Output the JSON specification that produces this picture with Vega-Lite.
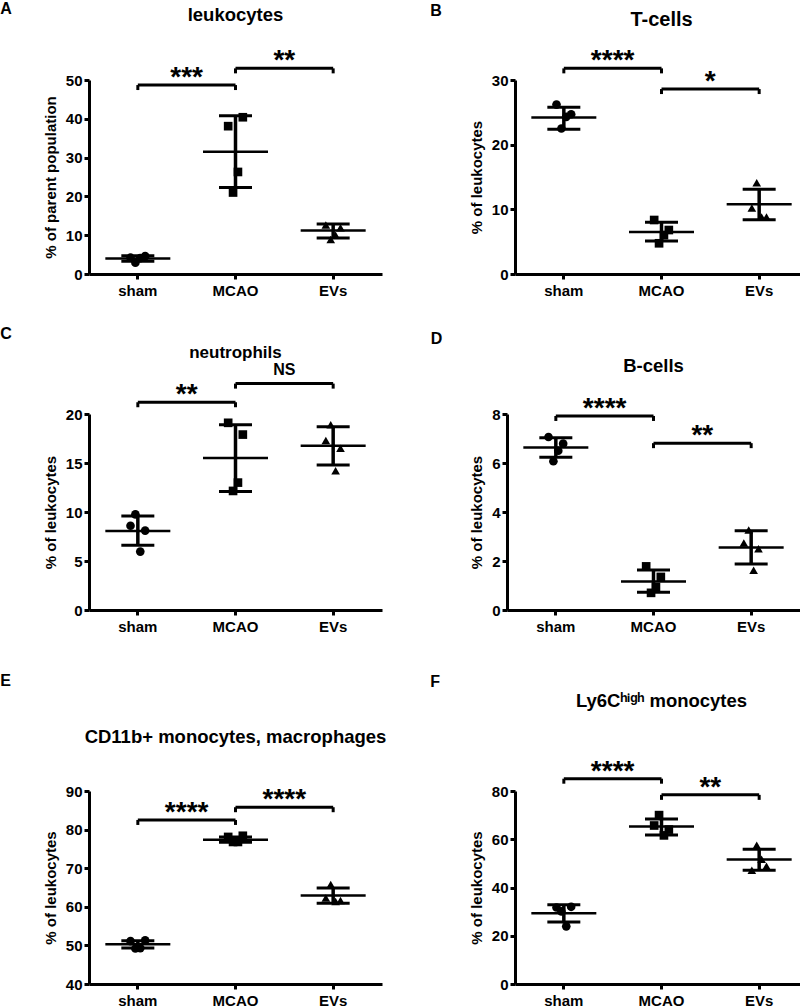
{
  "$schema": "https://vega.github.io/schema/vega-lite/v6.json",
  "padding": {"left": 0, "top": 0, "right": 2, "bottom": 0},
  "background": "white",
  "spacing": 27,
  "datasets": {
    "points": [
      {"panel": "A", "group": "sham", "rep": 1, "value": 4.2},
      {"panel": "A", "group": "sham", "rep": 2, "value": 2.9},
      {"panel": "A", "group": "sham", "rep": 3, "value": 4.1},
      {"panel": "A", "group": "sham", "rep": 4, "value": 4.6},
      {"panel": "A", "group": "MCAO", "rep": 1, "value": 38.1},
      {"panel": "A", "group": "MCAO", "rep": 2, "value": 21.0},
      {"panel": "A", "group": "MCAO", "rep": 3, "value": 26.3},
      {"panel": "A", "group": "MCAO", "rep": 4, "value": 40.4},
      {"panel": "A", "group": "EVs", "rep": 1, "value": 12.6},
      {"panel": "A", "group": "EVs", "rep": 2, "value": 8.9},
      {"panel": "A", "group": "EVs", "rep": 3, "value": 10.0},
      {"panel": "A", "group": "EVs", "rep": 4, "value": 11.9},
      {"panel": "B", "group": "sham", "rep": 1, "value": 26.2},
      {"panel": "B", "group": "sham", "rep": 2, "value": 22.5},
      {"panel": "B", "group": "sham", "rep": 3, "value": 24.3},
      {"panel": "B", "group": "sham", "rep": 4, "value": 24.7},
      {"panel": "B", "group": "MCAO", "rep": 1, "value": 8.35},
      {"panel": "B", "group": "MCAO", "rep": 2, "value": 4.75},
      {"panel": "B", "group": "MCAO", "rep": 3, "value": 6.0},
      {"panel": "B", "group": "MCAO", "rep": 4, "value": 6.8},
      {"panel": "B", "group": "EVs", "rep": 1, "value": 10.2},
      {"panel": "B", "group": "EVs", "rep": 2, "value": 14.1},
      {"panel": "B", "group": "EVs", "rep": 3, "value": 8.8},
      {"panel": "B", "group": "EVs", "rep": 4, "value": 8.8},
      {"panel": "C", "group": "sham", "rep": 1, "value": 8.6},
      {"panel": "C", "group": "sham", "rep": 2, "value": 9.76},
      {"panel": "C", "group": "sham", "rep": 3, "value": 5.96},
      {"panel": "C", "group": "sham", "rep": 4, "value": 8.1},
      {"panel": "C", "group": "MCAO", "rep": 1, "value": 19.1},
      {"panel": "C", "group": "MCAO", "rep": 2, "value": 12.15},
      {"panel": "C", "group": "MCAO", "rep": 3, "value": 13.0},
      {"panel": "C", "group": "MCAO", "rep": 4, "value": 17.9},
      {"panel": "C", "group": "EVs", "rep": 1, "value": 17.3},
      {"panel": "C", "group": "EVs", "rep": 2, "value": 18.9},
      {"panel": "C", "group": "EVs", "rep": 3, "value": 14.2},
      {"panel": "C", "group": "EVs", "rep": 4, "value": 16.5},
      {"panel": "D", "group": "sham", "rep": 1, "value": 7.06},
      {"panel": "D", "group": "sham", "rep": 2, "value": 6.07},
      {"panel": "D", "group": "sham", "rep": 3, "value": 6.5},
      {"panel": "D", "group": "sham", "rep": 4, "value": 6.79},
      {"panel": "D", "group": "MCAO", "rep": 1, "value": 1.78},
      {"panel": "D", "group": "MCAO", "rep": 2, "value": 0.70},
      {"panel": "D", "group": "MCAO", "rep": 3, "value": 0.94},
      {"panel": "D", "group": "MCAO", "rep": 4, "value": 1.35},
      {"panel": "D", "group": "EVs", "rep": 1, "value": 2.73},
      {"panel": "D", "group": "EVs", "rep": 2, "value": 3.27},
      {"panel": "D", "group": "EVs", "rep": 3, "value": 1.62},
      {"panel": "D", "group": "EVs", "rep": 4, "value": 2.5},
      {"panel": "E", "group": "sham", "rep": 1, "value": 51.1},
      {"panel": "E", "group": "sham", "rep": 2, "value": 49.2},
      {"panel": "E", "group": "sham", "rep": 3, "value": 49.3},
      {"panel": "E", "group": "sham", "rep": 4, "value": 51.3},
      {"panel": "E", "group": "MCAO", "rep": 1, "value": 78.1},
      {"panel": "E", "group": "MCAO", "rep": 2, "value": 76.8},
      {"panel": "E", "group": "MCAO", "rep": 3, "value": 76.8},
      {"panel": "E", "group": "MCAO", "rep": 4, "value": 78.4},
      {"panel": "E", "group": "EVs", "rep": 1, "value": 62.3},
      {"panel": "E", "group": "EVs", "rep": 2, "value": 65.8},
      {"panel": "E", "group": "EVs", "rep": 3, "value": 61.4},
      {"panel": "E", "group": "EVs", "rep": 4, "value": 61.6},
      {"panel": "F", "group": "sham", "rep": 1, "value": 31.7},
      {"panel": "F", "group": "sham", "rep": 2, "value": 30.1},
      {"panel": "F", "group": "sham", "rep": 3, "value": 23.9},
      {"panel": "F", "group": "sham", "rep": 4, "value": 32.0},
      {"panel": "F", "group": "MCAO", "rep": 1, "value": 65.7},
      {"panel": "F", "group": "MCAO", "rep": 2, "value": 70.0},
      {"panel": "F", "group": "MCAO", "rep": 3, "value": 61.6},
      {"panel": "F", "group": "MCAO", "rep": 4, "value": 64.0},
      {"panel": "F", "group": "EVs", "rep": 1, "value": 47.1},
      {"panel": "F", "group": "EVs", "rep": 2, "value": 57.5},
      {"panel": "F", "group": "EVs", "rep": 3, "value": 51.7},
      {"panel": "F", "group": "EVs", "rep": 4, "value": 48.8}
    ],
    "summary": [
      {"panel": "A", "group": "sham", "mean": 4.0, "lo": 3.3, "hi": 4.7},
      {"panel": "A", "group": "MCAO", "mean": 31.5, "lo": 22.3, "hi": 40.8},
      {"panel": "A", "group": "EVs", "mean": 11.2, "lo": 9.3, "hi": 12.9},
      {"panel": "B", "group": "sham", "mean": 24.2, "lo": 22.4, "hi": 25.8},
      {"panel": "B", "group": "MCAO", "mean": 6.5, "lo": 5.1, "hi": 8.0},
      {"panel": "B", "group": "EVs", "mean": 10.8, "lo": 8.4, "hi": 13.1},
      {"panel": "C", "group": "sham", "mean": 8.05, "lo": 6.6, "hi": 9.6},
      {"panel": "C", "group": "MCAO", "mean": 15.5, "lo": 12.1, "hi": 18.9},
      {"panel": "C", "group": "EVs", "mean": 16.75, "lo": 14.8, "hi": 18.7},
      {"panel": "D", "group": "sham", "mean": 6.63, "lo": 6.23, "hi": 7.03},
      {"panel": "D", "group": "MCAO", "mean": 1.16, "lo": 0.72, "hi": 1.63},
      {"panel": "D", "group": "EVs", "mean": 2.55, "lo": 1.88, "hi": 3.23},
      {"panel": "E", "group": "sham", "mean": 50.3, "lo": 49.3, "hi": 51.2},
      {"panel": "E", "group": "MCAO", "mean": 77.4, "lo": 76.7, "hi": 78.1},
      {"panel": "E", "group": "EVs", "mean": 62.9, "lo": 60.9, "hi": 64.9},
      {"panel": "F", "group": "sham", "mean": 29.3, "lo": 25.7, "hi": 32.8},
      {"panel": "F", "group": "MCAO", "mean": 65.3, "lo": 61.8, "hi": 68.4},
      {"panel": "F", "group": "EVs", "mean": 51.6, "lo": 47.1, "hi": 55.9}
    ],
    "sig": [
      {"panel": "A", "group": "sham", "to": "MCAO", "level": 48.7, "label": "***"},
      {"panel": "A", "group": "MCAO", "to": "EVs", "level": 53.0, "label": "**"},
      {"panel": "B", "group": "sham", "to": "MCAO", "level": 31.8, "label": "****"},
      {"panel": "B", "group": "MCAO", "to": "EVs", "level": 28.6, "label": "*"},
      {"panel": "C", "group": "sham", "to": "MCAO", "level": 21.2, "label": "**"},
      {"panel": "C", "group": "MCAO", "to": "EVs", "level": 23.1, "label": "NS"},
      {"panel": "D", "group": "sham", "to": "MCAO", "level": 7.92, "label": "****"},
      {"panel": "D", "group": "MCAO", "to": "EVs", "level": 6.81, "label": "**"},
      {"panel": "E", "group": "sham", "to": "MCAO", "level": 82.5, "label": "****"},
      {"panel": "E", "group": "MCAO", "to": "EVs", "level": 85.8, "label": "****"},
      {"panel": "F", "group": "sham", "to": "MCAO", "level": 85.1, "label": "****"},
      {"panel": "F", "group": "MCAO", "to": "EVs", "level": 78.4, "label": "**"}
    ]
  },
  "config": {
    "font": "Liberation Sans",
    "view": {"stroke": null},
    "axis": {"domainColor": "black", "domainWidth": 3, "tickColor": "black", "tickWidth": 3, "tickSize": 5, "labelFont": "Liberation Sans", "labelFontWeight": "bold", "labelFontSize": 15, "labelColor": "black", "titleFont": "Liberation Sans", "titleFontWeight": "bold", "titleFontSize": 15, "titleColor": "black", "grid": false},
    "axisY": {"titlePadding": 7, "labelPadding": 2},
    "axisX": {"labelPadding": 4, "labelAngle": 0},
    "title": {"font": "Liberation Sans", "fontWeight": "bold", "color": "black", "fontSize": 18},
    "tick": {"opacity": 1},
    "concat": {"spacing": 48}
  },
  "vconcat": [
    {"hconcat": [
      {"title": {"text": "A", "anchor": "start", "fontSize": 16, "dx": -43, "offset": -11},
       "vconcat": [{
        "width": 293, "height": 194,
        "title": {"text": "leukocytes", "offset": 23, "fontSize": 18.5, "frame": "group"},
        "encoding": {"x": {"field": "group", "type": "nominal", "scale": {"domain": ["sham", "MCAO", "EVs"], "paddingInner": 0.8, "paddingOuter": 0.4}, "axis": {"title": null}}},
        "layer": [
          {"data": {"name": "summary"}, "transform": [{"filter": "datum.panel === 'A'"}], "mark": {"type": "rule", "strokeWidth": 3.5, "color": "black"},
           "encoding": {"y": {"field": "lo", "type": "quantitative", "scale": {"domain": [0, 50], "nice": false, "zero": false}, "axis": {"values": [0, 10, 20, 30, 40, 50], "title": "% of parent population"}}, "y2": {"field": "hi"}}},
          {"data": {"name": "summary"}, "transform": [{"filter": "datum.panel === 'A'"}], "mark": {"type": "tick", "size": 65, "thickness": 2.5, "color": "black", "opacity": 1},
           "encoding": {"y": {"field": "mean", "type": "quantitative", "scale": {"domain": [0, 50], "nice": false, "zero": false}, "axis": {"values": [0, 10, 20, 30, 40, 50], "title": "% of parent population"}}}},
          {"data": {"name": "summary"}, "transform": [{"filter": "datum.panel === 'A'"}], "mark": {"type": "tick", "size": 33, "thickness": 3, "color": "black", "opacity": 1},
           "encoding": {"y": {"field": "lo", "type": "quantitative", "scale": {"domain": [0, 50], "nice": false, "zero": false}, "axis": {"values": [0, 10, 20, 30, 40, 50], "title": "% of parent population"}}}},
          {"data": {"name": "summary"}, "transform": [{"filter": "datum.panel === 'A'"}], "mark": {"type": "tick", "size": 33, "thickness": 3, "color": "black", "opacity": 1},
           "encoding": {"y": {"field": "hi", "type": "quantitative", "scale": {"domain": [0, 50], "nice": false, "zero": false}, "axis": {"values": [0, 10, 20, 30, 40, 50], "title": "% of parent population"}}}},
          {"data": {"name": "points"}, "transform": [{"filter": "datum.panel === 'A'"}], "mark": {"type": "point", "filled": true, "size": 75, "opacity": 1, "color": "black", "strokeWidth": 0},
           "encoding": {"xOffset": {"field": "rep", "type": "ordinal"}, "y": {"field": "value", "type": "quantitative", "scale": {"domain": [0, 50], "nice": false, "zero": false}, "axis": {"values": [0, 10, 20, 30, 40, 50], "title": "% of parent population"}},
            "shape": {"field": "group", "type": "nominal", "scale": {"domain": ["sham", "MCAO", "EVs"], "range": ["circle", "square", "triangle-up"]}, "legend": null}}},
          {"data": {"name": "sig"}, "transform": [{"filter": "datum.panel === 'A'"}], "mark": {"type": "rule", "strokeWidth": 3, "color": "black"},
           "encoding": {"x2": {"field": "to"}, "y": {"field": "level", "type": "quantitative", "scale": {"domain": [0, 50], "nice": false, "zero": false}, "axis": {"values": [0, 10, 20, 30, 40, 50], "title": "% of parent population"}}}},
          {"data": {"name": "sig"}, "transform": [{"filter": "datum.panel === 'A'"}], "mark": {"type": "rule", "strokeWidth": 3, "color": "black", "y2Offset": 5},
           "encoding": {"y": {"field": "level", "type": "quantitative", "scale": {"domain": [0, 50], "nice": false, "zero": false}, "axis": {"values": [0, 10, 20, 30, 40, 50], "title": "% of parent population"}}, "y2": {"field": "level"}}},
          {"data": {"name": "sig"}, "transform": [{"filter": "datum.panel === 'A'"}], "mark": {"type": "rule", "strokeWidth": 3, "color": "black", "y2Offset": 5},
           "encoding": {"x": {"field": "to", "type": "nominal", "scale": {"domain": ["sham", "MCAO", "EVs"], "paddingInner": 0.8, "paddingOuter": 0.4}, "axis": {"title": null}}, "y": {"field": "level", "type": "quantitative", "scale": {"domain": [0, 50], "nice": false, "zero": false}, "axis": {"values": [0, 10, 20, 30, 40, 50], "title": "% of parent population"}}, "y2": {"field": "level"}}},
          {"data": {"name": "sig"}, "transform": [{"filter": "datum.panel === 'A' && datum.label !== 'NS'"}], "mark": {"type": "text", "dx": 48.8, "dy": 1, "fontSize": 28, "fontWeight": "bold", "baseline": "alphabetic", "align": "center", "color": "black"},
           "encoding": {"y": {"field": "level", "type": "quantitative", "scale": {"domain": [0, 50], "nice": false, "zero": false}, "axis": {"values": [0, 10, 20, 30, 40, 50], "title": "% of parent population"}}, "text": {"field": "label"}}}
        ]
      }]},
      {"title": {"text": "B", "anchor": "start", "fontSize": 16, "dx": -39, "offset": -9},
       "vconcat": [{
        "width": 293, "height": 194,
        "title": {"text": "T-cells", "offset": 17, "fontSize": 20, "frame": "group"},
        "encoding": {"x": {"field": "group", "type": "nominal", "scale": {"domain": ["sham", "MCAO", "EVs"], "paddingInner": 0.8, "paddingOuter": 0.4}, "axis": {"title": null}}},
        "layer": [
          {"data": {"name": "summary"}, "transform": [{"filter": "datum.panel === 'B'"}], "mark": {"type": "rule", "strokeWidth": 3.5, "color": "black"},
           "encoding": {"y": {"field": "lo", "type": "quantitative", "scale": {"domain": [0, 30], "nice": false, "zero": false}, "axis": {"values": [0, 10, 20, 30], "title": "% of leukocytes"}}, "y2": {"field": "hi"}}},
          {"data": {"name": "summary"}, "transform": [{"filter": "datum.panel === 'B'"}], "mark": {"type": "tick", "size": 65, "thickness": 2.5, "color": "black", "opacity": 1},
           "encoding": {"y": {"field": "mean", "type": "quantitative", "scale": {"domain": [0, 30], "nice": false, "zero": false}, "axis": {"values": [0, 10, 20, 30], "title": "% of leukocytes"}}}},
          {"data": {"name": "summary"}, "transform": [{"filter": "datum.panel === 'B'"}], "mark": {"type": "tick", "size": 33, "thickness": 3, "color": "black", "opacity": 1},
           "encoding": {"y": {"field": "lo", "type": "quantitative", "scale": {"domain": [0, 30], "nice": false, "zero": false}, "axis": {"values": [0, 10, 20, 30], "title": "% of leukocytes"}}}},
          {"data": {"name": "summary"}, "transform": [{"filter": "datum.panel === 'B'"}], "mark": {"type": "tick", "size": 33, "thickness": 3, "color": "black", "opacity": 1},
           "encoding": {"y": {"field": "hi", "type": "quantitative", "scale": {"domain": [0, 30], "nice": false, "zero": false}, "axis": {"values": [0, 10, 20, 30], "title": "% of leukocytes"}}}},
          {"data": {"name": "points"}, "transform": [{"filter": "datum.panel === 'B'"}], "mark": {"type": "point", "filled": true, "size": 75, "opacity": 1, "color": "black", "strokeWidth": 0},
           "encoding": {"xOffset": {"field": "rep", "type": "ordinal"}, "y": {"field": "value", "type": "quantitative", "scale": {"domain": [0, 30], "nice": false, "zero": false}, "axis": {"values": [0, 10, 20, 30], "title": "% of leukocytes"}},
            "shape": {"field": "group", "type": "nominal", "scale": {"domain": ["sham", "MCAO", "EVs"], "range": ["circle", "square", "triangle-up"]}, "legend": null}}},
          {"data": {"name": "sig"}, "transform": [{"filter": "datum.panel === 'B'"}], "mark": {"type": "rule", "strokeWidth": 3, "color": "black"},
           "encoding": {"x2": {"field": "to"}, "y": {"field": "level", "type": "quantitative", "scale": {"domain": [0, 30], "nice": false, "zero": false}, "axis": {"values": [0, 10, 20, 30], "title": "% of leukocytes"}}}},
          {"data": {"name": "sig"}, "transform": [{"filter": "datum.panel === 'B'"}], "mark": {"type": "rule", "strokeWidth": 3, "color": "black", "y2Offset": 5},
           "encoding": {"y": {"field": "level", "type": "quantitative", "scale": {"domain": [0, 30], "nice": false, "zero": false}, "axis": {"values": [0, 10, 20, 30], "title": "% of leukocytes"}}, "y2": {"field": "level"}}},
          {"data": {"name": "sig"}, "transform": [{"filter": "datum.panel === 'B'"}], "mark": {"type": "rule", "strokeWidth": 3, "color": "black", "y2Offset": 5},
           "encoding": {"x": {"field": "to", "type": "nominal", "scale": {"domain": ["sham", "MCAO", "EVs"], "paddingInner": 0.8, "paddingOuter": 0.4}, "axis": {"title": null}}, "y": {"field": "level", "type": "quantitative", "scale": {"domain": [0, 30], "nice": false, "zero": false}, "axis": {"values": [0, 10, 20, 30], "title": "% of leukocytes"}}, "y2": {"field": "level"}}},
          {"data": {"name": "sig"}, "transform": [{"filter": "datum.panel === 'B' && datum.label !== 'NS'"}], "mark": {"type": "text", "dx": 48.8, "dy": 1, "fontSize": 28, "fontWeight": "bold", "baseline": "alphabetic", "align": "center", "color": "black"},
           "encoding": {"y": {"field": "level", "type": "quantitative", "scale": {"domain": [0, 30], "nice": false, "zero": false}, "axis": {"values": [0, 10, 20, 30], "title": "% of leukocytes"}}, "text": {"field": "label"}}}
        ]
      }]}
    ]},
    {"spacing": 38,
     "vconcat": [
    {"hconcat": [
      {"title": {"text": "C", "anchor": "start", "fontSize": 16, "dx": -43, "offset": 2},
       "vconcat": [{
        "width": 293, "height": 196,
        "title": {"text": "neutrophils", "offset": 0, "fontSize": 17, "frame": "group"},
        "encoding": {"x": {"field": "group", "type": "nominal", "scale": {"domain": ["sham", "MCAO", "EVs"], "paddingInner": 0.8, "paddingOuter": 0.4}, "axis": {"title": null}}},
        "layer": [
          {"data": {"name": "summary"}, "transform": [{"filter": "datum.panel === 'C'"}], "mark": {"type": "rule", "strokeWidth": 3.5, "color": "black"},
           "encoding": {"y": {"field": "lo", "type": "quantitative", "scale": {"domain": [0, 20], "nice": false, "zero": false}, "axis": {"values": [0, 5, 10, 15, 20], "title": "% of leukocytes"}}, "y2": {"field": "hi"}}},
          {"data": {"name": "summary"}, "transform": [{"filter": "datum.panel === 'C'"}], "mark": {"type": "tick", "size": 65, "thickness": 2.5, "color": "black", "opacity": 1},
           "encoding": {"y": {"field": "mean", "type": "quantitative", "scale": {"domain": [0, 20], "nice": false, "zero": false}, "axis": {"values": [0, 5, 10, 15, 20], "title": "% of leukocytes"}}}},
          {"data": {"name": "summary"}, "transform": [{"filter": "datum.panel === 'C'"}], "mark": {"type": "tick", "size": 33, "thickness": 3, "color": "black", "opacity": 1},
           "encoding": {"y": {"field": "lo", "type": "quantitative", "scale": {"domain": [0, 20], "nice": false, "zero": false}, "axis": {"values": [0, 5, 10, 15, 20], "title": "% of leukocytes"}}}},
          {"data": {"name": "summary"}, "transform": [{"filter": "datum.panel === 'C'"}], "mark": {"type": "tick", "size": 33, "thickness": 3, "color": "black", "opacity": 1},
           "encoding": {"y": {"field": "hi", "type": "quantitative", "scale": {"domain": [0, 20], "nice": false, "zero": false}, "axis": {"values": [0, 5, 10, 15, 20], "title": "% of leukocytes"}}}},
          {"data": {"name": "points"}, "transform": [{"filter": "datum.panel === 'C'"}], "mark": {"type": "point", "filled": true, "size": 75, "opacity": 1, "color": "black", "strokeWidth": 0},
           "encoding": {"xOffset": {"field": "rep", "type": "ordinal"}, "y": {"field": "value", "type": "quantitative", "scale": {"domain": [0, 20], "nice": false, "zero": false}, "axis": {"values": [0, 5, 10, 15, 20], "title": "% of leukocytes"}},
            "shape": {"field": "group", "type": "nominal", "scale": {"domain": ["sham", "MCAO", "EVs"], "range": ["circle", "square", "triangle-up"]}, "legend": null}}},
          {"data": {"name": "sig"}, "transform": [{"filter": "datum.panel === 'C'"}], "mark": {"type": "rule", "strokeWidth": 3, "color": "black"},
           "encoding": {"x2": {"field": "to"}, "y": {"field": "level", "type": "quantitative", "scale": {"domain": [0, 20], "nice": false, "zero": false}, "axis": {"values": [0, 5, 10, 15, 20], "title": "% of leukocytes"}}}},
          {"data": {"name": "sig"}, "transform": [{"filter": "datum.panel === 'C'"}], "mark": {"type": "rule", "strokeWidth": 3, "color": "black", "y2Offset": 5},
           "encoding": {"y": {"field": "level", "type": "quantitative", "scale": {"domain": [0, 20], "nice": false, "zero": false}, "axis": {"values": [0, 5, 10, 15, 20], "title": "% of leukocytes"}}, "y2": {"field": "level"}}},
          {"data": {"name": "sig"}, "transform": [{"filter": "datum.panel === 'C'"}], "mark": {"type": "rule", "strokeWidth": 3, "color": "black", "y2Offset": 5},
           "encoding": {"x": {"field": "to", "type": "nominal", "scale": {"domain": ["sham", "MCAO", "EVs"], "paddingInner": 0.8, "paddingOuter": 0.4}, "axis": {"title": null}}, "y": {"field": "level", "type": "quantitative", "scale": {"domain": [0, 20], "nice": false, "zero": false}, "axis": {"values": [0, 5, 10, 15, 20], "title": "% of leukocytes"}}, "y2": {"field": "level"}}},
          {"data": {"name": "sig"}, "transform": [{"filter": "datum.panel === 'C' && datum.label !== 'NS'"}], "mark": {"type": "text", "dx": 48.8, "dy": 1, "fontSize": 28, "fontWeight": "bold", "baseline": "alphabetic", "align": "center", "color": "black"},
           "encoding": {"y": {"field": "level", "type": "quantitative", "scale": {"domain": [0, 20], "nice": false, "zero": false}, "axis": {"values": [0, 5, 10, 15, 20], "title": "% of leukocytes"}}, "text": {"field": "label"}}},
          {"data": {"name": "sig"}, "transform": [{"filter": "datum.panel === 'C' && datum.label === 'NS'"}], "mark": {"type": "text", "dx": 48.8, "dy": -9, "fontSize": 16, "fontWeight": "bold", "baseline": "alphabetic", "align": "center", "color": "black"},
           "encoding": {"y": {"field": "level", "type": "quantitative", "scale": {"domain": [0, 20], "nice": false, "zero": false}, "axis": {"values": [0, 5, 10, 15, 20], "title": "% of leukocytes"}}, "text": {"field": "label"}}}
        ]
      }]},
      {"title": {"text": "D", "anchor": "start", "fontSize": 16, "dx": -39, "offset": 10},
       "vconcat": [{
        "width": 293, "height": 196,
        "title": {"text": "B-cells", "offset": 19, "fontSize": 18.5, "frame": "group"},
        "encoding": {"x": {"field": "group", "type": "nominal", "scale": {"domain": ["sham", "MCAO", "EVs"], "paddingInner": 0.8, "paddingOuter": 0.4}, "axis": {"title": null}}},
        "layer": [
          {"data": {"name": "summary"}, "transform": [{"filter": "datum.panel === 'D'"}], "mark": {"type": "rule", "strokeWidth": 3.5, "color": "black"},
           "encoding": {"y": {"field": "lo", "type": "quantitative", "scale": {"domain": [0, 8], "nice": false, "zero": false}, "axis": {"values": [0, 2, 4, 6, 8], "title": "% of leukocytes"}}, "y2": {"field": "hi"}}},
          {"data": {"name": "summary"}, "transform": [{"filter": "datum.panel === 'D'"}], "mark": {"type": "tick", "size": 65, "thickness": 2.5, "color": "black", "opacity": 1},
           "encoding": {"y": {"field": "mean", "type": "quantitative", "scale": {"domain": [0, 8], "nice": false, "zero": false}, "axis": {"values": [0, 2, 4, 6, 8], "title": "% of leukocytes"}}}},
          {"data": {"name": "summary"}, "transform": [{"filter": "datum.panel === 'D'"}], "mark": {"type": "tick", "size": 33, "thickness": 3, "color": "black", "opacity": 1},
           "encoding": {"y": {"field": "lo", "type": "quantitative", "scale": {"domain": [0, 8], "nice": false, "zero": false}, "axis": {"values": [0, 2, 4, 6, 8], "title": "% of leukocytes"}}}},
          {"data": {"name": "summary"}, "transform": [{"filter": "datum.panel === 'D'"}], "mark": {"type": "tick", "size": 33, "thickness": 3, "color": "black", "opacity": 1},
           "encoding": {"y": {"field": "hi", "type": "quantitative", "scale": {"domain": [0, 8], "nice": false, "zero": false}, "axis": {"values": [0, 2, 4, 6, 8], "title": "% of leukocytes"}}}},
          {"data": {"name": "points"}, "transform": [{"filter": "datum.panel === 'D'"}], "mark": {"type": "point", "filled": true, "size": 75, "opacity": 1, "color": "black", "strokeWidth": 0},
           "encoding": {"xOffset": {"field": "rep", "type": "ordinal"}, "y": {"field": "value", "type": "quantitative", "scale": {"domain": [0, 8], "nice": false, "zero": false}, "axis": {"values": [0, 2, 4, 6, 8], "title": "% of leukocytes"}},
            "shape": {"field": "group", "type": "nominal", "scale": {"domain": ["sham", "MCAO", "EVs"], "range": ["circle", "square", "triangle-up"]}, "legend": null}}},
          {"data": {"name": "sig"}, "transform": [{"filter": "datum.panel === 'D'"}], "mark": {"type": "rule", "strokeWidth": 3, "color": "black"},
           "encoding": {"x2": {"field": "to"}, "y": {"field": "level", "type": "quantitative", "scale": {"domain": [0, 8], "nice": false, "zero": false}, "axis": {"values": [0, 2, 4, 6, 8], "title": "% of leukocytes"}}}},
          {"data": {"name": "sig"}, "transform": [{"filter": "datum.panel === 'D'"}], "mark": {"type": "rule", "strokeWidth": 3, "color": "black", "y2Offset": 5},
           "encoding": {"y": {"field": "level", "type": "quantitative", "scale": {"domain": [0, 8], "nice": false, "zero": false}, "axis": {"values": [0, 2, 4, 6, 8], "title": "% of leukocytes"}}, "y2": {"field": "level"}}},
          {"data": {"name": "sig"}, "transform": [{"filter": "datum.panel === 'D'"}], "mark": {"type": "rule", "strokeWidth": 3, "color": "black", "y2Offset": 5},
           "encoding": {"x": {"field": "to", "type": "nominal", "scale": {"domain": ["sham", "MCAO", "EVs"], "paddingInner": 0.8, "paddingOuter": 0.4}, "axis": {"title": null}}, "y": {"field": "level", "type": "quantitative", "scale": {"domain": [0, 8], "nice": false, "zero": false}, "axis": {"values": [0, 2, 4, 6, 8], "title": "% of leukocytes"}}, "y2": {"field": "level"}}},
          {"data": {"name": "sig"}, "transform": [{"filter": "datum.panel === 'D' && datum.label !== 'NS'"}], "mark": {"type": "text", "dx": 48.8, "dy": 1, "fontSize": 28, "fontWeight": "bold", "baseline": "alphabetic", "align": "center", "color": "black"},
           "encoding": {"y": {"field": "level", "type": "quantitative", "scale": {"domain": [0, 8], "nice": false, "zero": false}, "axis": {"values": [0, 2, 4, 6, 8], "title": "% of leukocytes"}}, "text": {"field": "label"}}}
        ]
      }]}
    ]},
    {"spacing": 43,
     "hconcat": [
      {"title": {"text": "E", "anchor": "start", "fontSize": 16, "dx": -43, "offset": 39},
       "vconcat": [{
        "width": 293, "height": 193,
        "title": {"text": "CD11b+ monocytes, macrophages", "offset": 38, "fontSize": 18.5, "frame": "group"},
        "encoding": {"x": {"field": "group", "type": "nominal", "scale": {"domain": ["sham", "MCAO", "EVs"], "paddingInner": 0.8, "paddingOuter": 0.4}, "axis": {"title": null}}},
        "layer": [
          {"data": {"name": "summary"}, "transform": [{"filter": "datum.panel === 'E'"}], "mark": {"type": "rule", "strokeWidth": 3.5, "color": "black"},
           "encoding": {"y": {"field": "lo", "type": "quantitative", "scale": {"domain": [40, 90], "nice": false, "zero": false}, "axis": {"values": [40, 50, 60, 70, 80, 90], "title": "% of leukocytes"}}, "y2": {"field": "hi"}}},
          {"data": {"name": "summary"}, "transform": [{"filter": "datum.panel === 'E'"}], "mark": {"type": "tick", "size": 65, "thickness": 2.5, "color": "black", "opacity": 1},
           "encoding": {"y": {"field": "mean", "type": "quantitative", "scale": {"domain": [40, 90], "nice": false, "zero": false}, "axis": {"values": [40, 50, 60, 70, 80, 90], "title": "% of leukocytes"}}}},
          {"data": {"name": "summary"}, "transform": [{"filter": "datum.panel === 'E'"}], "mark": {"type": "tick", "size": 33, "thickness": 3, "color": "black", "opacity": 1},
           "encoding": {"y": {"field": "lo", "type": "quantitative", "scale": {"domain": [40, 90], "nice": false, "zero": false}, "axis": {"values": [40, 50, 60, 70, 80, 90], "title": "% of leukocytes"}}}},
          {"data": {"name": "summary"}, "transform": [{"filter": "datum.panel === 'E'"}], "mark": {"type": "tick", "size": 33, "thickness": 3, "color": "black", "opacity": 1},
           "encoding": {"y": {"field": "hi", "type": "quantitative", "scale": {"domain": [40, 90], "nice": false, "zero": false}, "axis": {"values": [40, 50, 60, 70, 80, 90], "title": "% of leukocytes"}}}},
          {"data": {"name": "points"}, "transform": [{"filter": "datum.panel === 'E'"}], "mark": {"type": "point", "filled": true, "size": 75, "opacity": 1, "color": "black", "strokeWidth": 0},
           "encoding": {"xOffset": {"field": "rep", "type": "ordinal"}, "y": {"field": "value", "type": "quantitative", "scale": {"domain": [40, 90], "nice": false, "zero": false}, "axis": {"values": [40, 50, 60, 70, 80, 90], "title": "% of leukocytes"}},
            "shape": {"field": "group", "type": "nominal", "scale": {"domain": ["sham", "MCAO", "EVs"], "range": ["circle", "square", "triangle-up"]}, "legend": null}}},
          {"data": {"name": "sig"}, "transform": [{"filter": "datum.panel === 'E'"}], "mark": {"type": "rule", "strokeWidth": 3, "color": "black"},
           "encoding": {"x2": {"field": "to"}, "y": {"field": "level", "type": "quantitative", "scale": {"domain": [40, 90], "nice": false, "zero": false}, "axis": {"values": [40, 50, 60, 70, 80, 90], "title": "% of leukocytes"}}}},
          {"data": {"name": "sig"}, "transform": [{"filter": "datum.panel === 'E'"}], "mark": {"type": "rule", "strokeWidth": 3, "color": "black", "y2Offset": 5},
           "encoding": {"y": {"field": "level", "type": "quantitative", "scale": {"domain": [40, 90], "nice": false, "zero": false}, "axis": {"values": [40, 50, 60, 70, 80, 90], "title": "% of leukocytes"}}, "y2": {"field": "level"}}},
          {"data": {"name": "sig"}, "transform": [{"filter": "datum.panel === 'E'"}], "mark": {"type": "rule", "strokeWidth": 3, "color": "black", "y2Offset": 5},
           "encoding": {"x": {"field": "to", "type": "nominal", "scale": {"domain": ["sham", "MCAO", "EVs"], "paddingInner": 0.8, "paddingOuter": 0.4}, "axis": {"title": null}}, "y": {"field": "level", "type": "quantitative", "scale": {"domain": [40, 90], "nice": false, "zero": false}, "axis": {"values": [40, 50, 60, 70, 80, 90], "title": "% of leukocytes"}}, "y2": {"field": "level"}}},
          {"data": {"name": "sig"}, "transform": [{"filter": "datum.panel === 'E' && datum.label !== 'NS'"}], "mark": {"type": "text", "dx": 48.8, "dy": 1, "fontSize": 28, "fontWeight": "bold", "baseline": "alphabetic", "align": "center", "color": "black"},
           "encoding": {"y": {"field": "level", "type": "quantitative", "scale": {"domain": [40, 90], "nice": false, "zero": false}, "axis": {"values": [40, 50, 60, 70, 80, 90], "title": "% of leukocytes"}}, "text": {"field": "label"}}}
        ]
      }]},
      {"title": {"text": "F", "anchor": "start", "fontSize": 16, "dx": -39, "offset": 2},
       "vconcat": [{
        "width": 293, "height": 193,
        "title": {"text": "Ly6Cʰⁱᵍʰ monocytes", "offset": 47, "fontSize": 18.5, "frame": "group"},
        "encoding": {"x": {"field": "group", "type": "nominal", "scale": {"domain": ["sham", "MCAO", "EVs"], "paddingInner": 0.8, "paddingOuter": 0.4}, "axis": {"title": null}}},
        "layer": [
          {"data": {"name": "summary"}, "transform": [{"filter": "datum.panel === 'F'"}], "mark": {"type": "rule", "strokeWidth": 3.5, "color": "black"},
           "encoding": {"y": {"field": "lo", "type": "quantitative", "scale": {"domain": [0, 80], "nice": false, "zero": false}, "axis": {"values": [0, 20, 40, 60, 80], "title": "% of leukocytes"}}, "y2": {"field": "hi"}}},
          {"data": {"name": "summary"}, "transform": [{"filter": "datum.panel === 'F'"}], "mark": {"type": "tick", "size": 65, "thickness": 2.5, "color": "black", "opacity": 1},
           "encoding": {"y": {"field": "mean", "type": "quantitative", "scale": {"domain": [0, 80], "nice": false, "zero": false}, "axis": {"values": [0, 20, 40, 60, 80], "title": "% of leukocytes"}}}},
          {"data": {"name": "summary"}, "transform": [{"filter": "datum.panel === 'F'"}], "mark": {"type": "tick", "size": 33, "thickness": 3, "color": "black", "opacity": 1},
           "encoding": {"y": {"field": "lo", "type": "quantitative", "scale": {"domain": [0, 80], "nice": false, "zero": false}, "axis": {"values": [0, 20, 40, 60, 80], "title": "% of leukocytes"}}}},
          {"data": {"name": "summary"}, "transform": [{"filter": "datum.panel === 'F'"}], "mark": {"type": "tick", "size": 33, "thickness": 3, "color": "black", "opacity": 1},
           "encoding": {"y": {"field": "hi", "type": "quantitative", "scale": {"domain": [0, 80], "nice": false, "zero": false}, "axis": {"values": [0, 20, 40, 60, 80], "title": "% of leukocytes"}}}},
          {"data": {"name": "points"}, "transform": [{"filter": "datum.panel === 'F'"}], "mark": {"type": "point", "filled": true, "size": 75, "opacity": 1, "color": "black", "strokeWidth": 0},
           "encoding": {"xOffset": {"field": "rep", "type": "ordinal"}, "y": {"field": "value", "type": "quantitative", "scale": {"domain": [0, 80], "nice": false, "zero": false}, "axis": {"values": [0, 20, 40, 60, 80], "title": "% of leukocytes"}},
            "shape": {"field": "group", "type": "nominal", "scale": {"domain": ["sham", "MCAO", "EVs"], "range": ["circle", "square", "triangle-up"]}, "legend": null}}},
          {"data": {"name": "sig"}, "transform": [{"filter": "datum.panel === 'F'"}], "mark": {"type": "rule", "strokeWidth": 3, "color": "black"},
           "encoding": {"x2": {"field": "to"}, "y": {"field": "level", "type": "quantitative", "scale": {"domain": [0, 80], "nice": false, "zero": false}, "axis": {"values": [0, 20, 40, 60, 80], "title": "% of leukocytes"}}}},
          {"data": {"name": "sig"}, "transform": [{"filter": "datum.panel === 'F'"}], "mark": {"type": "rule", "strokeWidth": 3, "color": "black", "y2Offset": 5},
           "encoding": {"y": {"field": "level", "type": "quantitative", "scale": {"domain": [0, 80], "nice": false, "zero": false}, "axis": {"values": [0, 20, 40, 60, 80], "title": "% of leukocytes"}}, "y2": {"field": "level"}}},
          {"data": {"name": "sig"}, "transform": [{"filter": "datum.panel === 'F'"}], "mark": {"type": "rule", "strokeWidth": 3, "color": "black", "y2Offset": 5},
           "encoding": {"x": {"field": "to", "type": "nominal", "scale": {"domain": ["sham", "MCAO", "EVs"], "paddingInner": 0.8, "paddingOuter": 0.4}, "axis": {"title": null}}, "y": {"field": "level", "type": "quantitative", "scale": {"domain": [0, 80], "nice": false, "zero": false}, "axis": {"values": [0, 20, 40, 60, 80], "title": "% of leukocytes"}}, "y2": {"field": "level"}}},
          {"data": {"name": "sig"}, "transform": [{"filter": "datum.panel === 'F' && datum.label !== 'NS'"}], "mark": {"type": "text", "dx": 48.8, "dy": 1, "fontSize": 28, "fontWeight": "bold", "baseline": "alphabetic", "align": "center", "color": "black"},
           "encoding": {"y": {"field": "level", "type": "quantitative", "scale": {"domain": [0, 80], "nice": false, "zero": false}, "axis": {"values": [0, 20, 40, 60, 80], "title": "% of leukocytes"}}, "text": {"field": "label"}}}
        ]
      }]}
    ]}
    ]}
  ]
}
